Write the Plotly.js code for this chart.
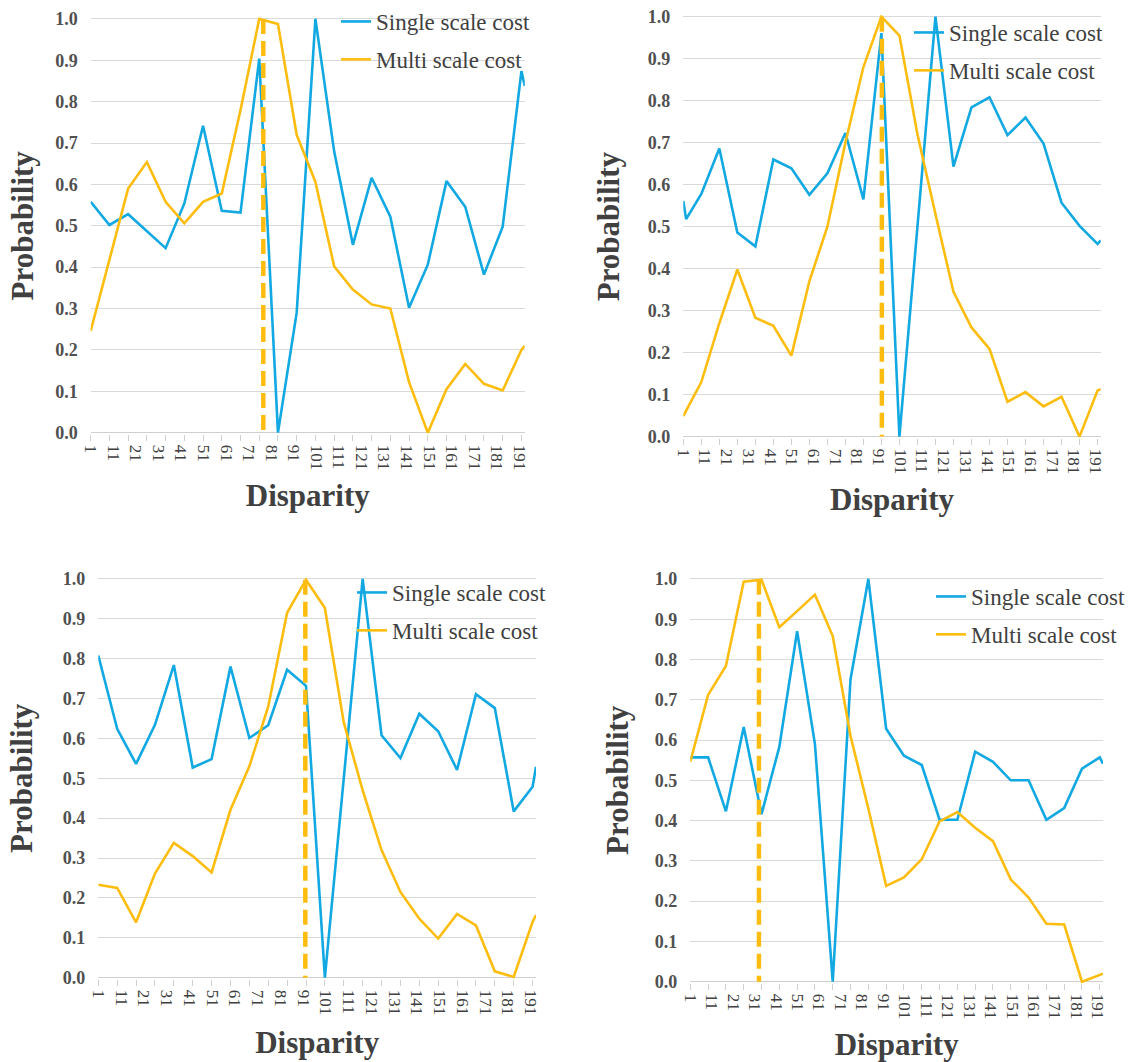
<!DOCTYPE html>
<html>
<head>
<meta charset="utf-8">
<script src="https://cdn.plot.ly/plotly-3.0.1.min.js"></script>
<style>html,body{margin:0;padding:0;background:#fff;}#chart{width:1146px;height:1062px;}</style>
</head>
<body>
<div id="chart"></div>
<script>
// Disparity positions of the sampled points (shared by most series)
const disparity = [1, 9.3, 17.6, 25.9, 34.2, 42.5, 50.8, 59.1, 67.4, 75.7, 84, 92.3, 100.6, 108.9, 117.2, 125.5, 133.8, 142.1, 150.4, 158.7, 167, 175.3, 183.6, 191.9, 193.4];
// Panel 2 single-scale series has one extra early sample
const disparityP2Single = [1, 2.3, 9.3, 17.6, 25.9, 34.2, 42.5, 50.8, 59.1, 67.4, 75.7, 84, 92.3, 100.6, 108.9, 117.2, 125.5, 133.8, 142.1, 150.4, 158.7, 167, 175.3, 183.6, 191.9, 193.4];

const tickLabels = ["1","11","21","31","41","51","61","71","81","91","101","111","121","131","141","151","161","171","181","191"];
const tickValues = [1,11,21,31,41,51,61,71,81,91,101,111,121,131,141,151,161,171,181,191];

const p1Single = [0.558, 0.502, 0.528, 0.487, 0.446, 0.554, 0.742, 0.536, 0.532, 0.904, 0.0, 0.29, 1.0, 0.68, 0.454, 0.616, 0.522, 0.302, 0.406, 0.608, 0.546, 0.382, 0.498, 0.874, 0.838];
const p1Multi  = [0.246, 0.42, 0.59, 0.654, 0.558, 0.506, 0.558, 0.578, 0.78, 1.0, 0.988, 0.72, 0.606, 0.402, 0.346, 0.31, 0.30, 0.122, 0.0, 0.105, 0.166, 0.118, 0.102, 0.20, 0.21];

const p2Single = [0.561, 0.518, 0.578, 0.686, 0.486, 0.453, 0.66, 0.639, 0.576, 0.627, 0.723, 0.565, 0.961, 0.0, 0.5, 1.0, 0.643, 0.784, 0.808, 0.718, 0.76, 0.698, 0.557, 0.502, 0.459, 0.467];
const p2Multi  = [0.049, 0.13, 0.27, 0.398, 0.283, 0.264, 0.193, 0.37, 0.5, 0.70, 0.88, 1.0, 0.955, 0.72, 0.53, 0.345, 0.26, 0.209, 0.083, 0.106, 0.072, 0.095, 0.0, 0.11, 0.113];

const p3Single = [0.808, 0.624, 0.536, 0.634, 0.784, 0.527, 0.548, 0.78, 0.601, 0.633, 0.772, 0.732, 0.0, 0.5, 1.0, 0.608, 0.551, 0.662, 0.618, 0.521, 0.711, 0.676, 0.417, 0.479, 0.529];
const p3Multi  = [0.233, 0.225, 0.139, 0.261, 0.338, 0.305, 0.264, 0.421, 0.53, 0.68, 0.915, 0.998, 0.927, 0.64, 0.47, 0.32, 0.215, 0.148, 0.098, 0.16, 0.131, 0.016, 0.002, 0.14, 0.157];

const p4Single = [0.557, 0.557, 0.423, 0.632, 0.416, 0.583, 0.87, 0.59, 0.0, 0.751, 1.0, 0.628, 0.561, 0.538, 0.402, 0.402, 0.571, 0.546, 0.5, 0.5, 0.402, 0.431, 0.529, 0.557, 0.541];
const p4Multi  = [0.546, 0.712, 0.784, 0.993, 0.998, 0.88, 0.92, 0.961, 0.858, 0.61, 0.43, 0.238, 0.259, 0.304, 0.398, 0.421, 0.382, 0.349, 0.254, 0.209, 0.144, 0.142, 0.0, 0.016, 0.02];

// Marked (true) disparity for each panel
const groundTruth = [77.5, 92.5, 92, 33];

const BLUE = '#12a8e2';
const GOLD = '#fdbd10';
const SERIF = '"Liberation Serif", "Times New Roman", "DejaVu Serif", serif';

const panels = [
  {xs: disparity, single: p1Single, xm: disparity, multi: p1Multi},
  {xs: disparityP2Single, single: p2Single, xm: disparity, multi: p2Multi},
  {xs: disparity, single: p3Single, xm: disparity, multi: p3Multi},
  {xs: disparity, single: p4Single, xm: disparity, multi: p4Multi}
];

// plot-area domains (pixels) for each panel
const W = 1146, H = 1062;
const boxes = [
  {l: 90.7, r: 524.8, t: 17.3, b: 434.3, standY: 12, standX: 15, leg: [336, 0]},
  {l: 683.3, r: 1100.8, t: 15, b: 438.3, standY: 18, standX: 15, leg: [909, 11]},
  {l: 98.3, r: 536, t: 577.3, b: 979.3, standY: 20, standX: 17, leg: [352, 571]},
  {l: 690.3, r: 1103, t: 577.3, b: 983.3, standY: 16, standX: 15, leg: [931, 575]}
];

const traces = [];
const layout = {
  width: W, height: H,
  margin: {l: 0, r: 0, t: 0, b: 0},
  paper_bgcolor: '#fff', plot_bgcolor: '#fff',
  font: {family: SERIF, color: '#404040'},
  showlegend: true
};

panels.forEach((p, i) => {
  const sfx = i === 0 ? '' : String(i + 1);
  const xa = 'x' + sfx, ya = 'y' + sfx;
  const lg = 'legend' + sfx;
  traces.push({
    type: 'scatter', mode: 'lines', x: p.xs, y: p.single, name: 'Single scale cost',
    xaxis: xa, yaxis: ya, legend: lg, legendgroup: 'g1',
    line: {color: BLUE, width: 2.6}
  });
  traces.push({
    type: 'scatter', mode: 'lines', x: p.xm, y: p.multi, name: 'Multi scale cost',
    xaxis: xa, yaxis: ya, legend: lg, legendgroup: 'g2',
    line: {color: GOLD, width: 2.6}
  });
  traces.push({
    type: 'scatter', mode: 'lines', x: [groundTruth[i], groundTruth[i]], y: [Math.max(...p.multi), 0],
    xaxis: xa, yaxis: ya, showlegend: false, hoverinfo: 'skip',
    line: {color: GOLD, width: 4.5, dash: '15px,7px'}
  });

  const b = boxes[i];
  layout['xaxis' + sfx] = {
    domain: [b.l / W, b.r / W],
    anchor: ya,
    range: [1, 193.4],
    tickmode: 'array', tickvals: tickValues, ticktext: tickLabels,
    tickangle: 90,
    ticks: 'outside', ticklen: 6, tickcolor: 'rgba(0,0,0,0)',
    minor: {ticks: 'outside', ticklen: 6, tickcolor: '#d0d0d0', tick0: 1, dtick: 8.3, showgrid: false},
    tickfont: {family: SERIF, size: 17, color: '#404040'},
    showgrid: false, zeroline: false, showline: false,
    title: {text: 'Disparity', font: {family: SERIF, size: 31, color: '#404040', weight: 'bold'}, standoff: b.standX},
    automargin: false
  };
  layout['yaxis' + sfx] = {
    domain: [1 - b.b / H, 1 - b.t / H],
    anchor: xa,
    range: [-0.004, 1.004],
    tickmode: 'array', tickvals: [0, 0.1, 0.2, 0.3, 0.4, 0.5, 0.6, 0.7, 0.8, 0.9, 1.0],
    ticktext: ['0.0', '0.1', '0.2', '0.3', '0.4', '0.5', '0.6', '0.7', '0.8', '0.9', '1.0'],
    ticks: '', ticklabelstandoff: 12,
    tickfont: {family: SERIF, size: 18, color: '#505050', weight: 'bold'},
    showgrid: true, gridcolor: '#d9d9d9', gridwidth: 1,
    zeroline: true, zerolinecolor: '#d0d0d0', zerolinewidth: 1,
    showline: false,
    title: {text: 'Probability', font: {family: SERIF, size: 31, color: '#404040', weight: 'bold'}, standoff: b.standY},
    automargin: false
  };
  layout[lg] = {
    x: b.leg[0] / W, y: 1 - b.leg[1] / H, xanchor: 'left', yanchor: 'top',
    xref: 'paper', yref: 'paper',
    bgcolor: 'rgba(255,255,255,0)', borderwidth: 0,
    font: {family: SERIF, size: 23, color: '#404040'},
    traceorder: 'grouped', tracegroupgap: 5
  };
});

Plotly.newPlot('chart', traces, layout, {displayModeBar: false, staticPlot: true});
</script>
</body>
</html>
